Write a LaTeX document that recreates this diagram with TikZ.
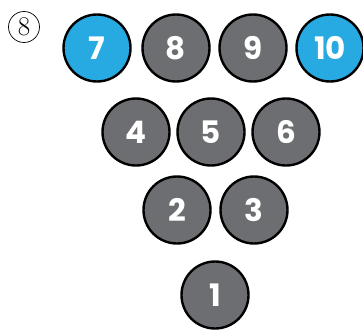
\documentclass[tikz,border=0pt]{standalone}
\usepackage{fontspec}
\newfontfamily\pinfont{Poppins}[BoldFont=* Bold]
\definecolor{pingray}{HTML}{6D6E71}
\definecolor{pinblue}{HTML}{27AAE1}
\begin{document}
\begin{tikzpicture}[x=1pt,y=-1pt,
  pin/.style={circle, draw=black, line width=2.4pt, minimum size=67pt, inner sep=0pt,
    fill=pingray, text=white, font=\pinfont\bfseries\fontsize{31}{31}\selectfont},
  bluepin/.style={pin, fill=pinblue},
  label8/.style={circle, draw=black, line width=0.7pt, minimum size=31pt, inner sep=0pt,
    font=\fontsize{27}{27}\selectfont}]
\useasboundingbox (0,0) rectangle (363,329);
\node[label8] (lab) at (24,27) {8};
\node[bluepin] (p7) at (97,48) {7};
\node[pin] (p8) at (176,48) {8};
\node[pin] (p9) at (253,48) {9};
\node[bluepin] (p10) at (330,48) {10};
\node[pin] (p4) at (136,132) {4};
\node[pin] (p5) at (211,132) {5};
\node[pin] (p6) at (286,132) {6};
\node[pin] (p2) at (177,210) {2};
\node[pin] (p3) at (254,210) {3};
\node[pin] (p1) at (215,295) {1};
\end{tikzpicture}
\end{document}
